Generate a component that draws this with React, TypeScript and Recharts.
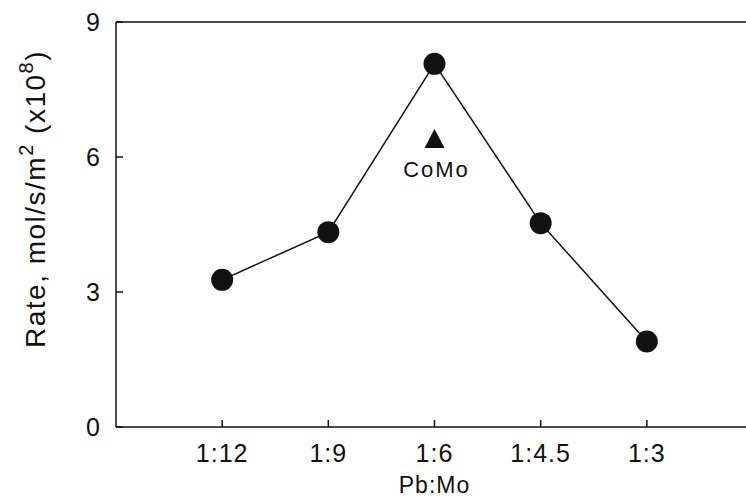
import { ComposedChart, Line, Scatter, XAxis, YAxis, ReferenceLine, Label } from "recharts";

const ratios = ["1:12", "1:9", "1:6", "1:4.5", "1:3"];
const ratioPositions = [1, 2, 3, 4, 5];
const rates = [3.27, 4.33, 8.07, 4.53, 1.9];

const comoNames = ["CoMo"];
const comoPositions = [3];
const comoRates = [6.4];

const yTicks = [0, 3, 6, 9];

const data = ratios.map((r, i) => ({ x: ratioPositions[i], ratio: r, rate: rates[i] }));
const comoData = comoNames.map((name, i) => ({ x: comoPositions[i], rate: comoRates[i], name }));

const FONT = "'Liberation Sans', Arial, sans-serif";
const INK = "#111";

function XTick(props: any) {
  const { x, y, payload } = props;
  const idx = ratioPositions.indexOf(payload.value);
  return (
    <g>
      <line x1={x} x2={x} y1={y} y2={y - 7} stroke={INK} strokeWidth={1.5} />
      <text x={x} y={y + 35} textAnchor="middle" fontSize={25} letterSpacing={1} fontFamily={FONT} fill={INK}>
        {idx >= 0 ? ratios[idx] : ""}
      </text>
    </g>
  );
}

function YTick(props: any) {
  const { x, y, payload } = props;
  return (
    <g>
      <line x1={x} x2={x + 7} y1={y} y2={y} stroke={INK} strokeWidth={1.5} />
      <text x={x - 16} y={y} dy="0.36em" textAnchor="end" fontSize={25} fontFamily={FONT} fill={INK}>
        {payload.value}
      </text>
    </g>
  );
}

function Triangle(props: any) {
  const { cx, cy, payload } = props;
  if (cx == null || cy == null) return null;
  return (
    <g>
      <polygon points={`${cx},${cy - 10} ${cx - 10},${cy + 9} ${cx + 10},${cy + 9}`} fill={INK} />
      <text x={cx + 2} y={cy + 38} textAnchor="middle" fontSize={22} letterSpacing={2} fontFamily={FONT} fill={INK}>
        {payload?.name}
      </text>
    </g>
  );
}

function YLabel() {
  return (
    <text
      transform="translate(45,199) rotate(-90)"
      textAnchor="middle"
      fontSize={28}
      letterSpacing={1.5}
      fontFamily={FONT}
      fill={INK}
    >
      Rate, mol/s/m
      <tspan dy={-12} fontSize={20}>2</tspan>
      <tspan dy={12}> (x10</tspan>
      <tspan dy={-12} fontSize={20}>8</tspan>
      <tspan dy={12}>)</tspan>
    </text>
  );
}

export default function App() {
  return (
    <div style={{ position: "absolute", left: 0, top: 0, background: "#fff" }}>
      <ComposedChart
        width={746}
        height={502}
        data={data}
        margin={{ top: 22, right: -7, bottom: 0, left: 0 }}
      >
        <XAxis
          dataKey="x"
          type="number"
          domain={[0, 6]}
          ticks={ratioPositions}
          interval={0}
          allowDataOverflow
          height={75}
          tickSize={0}
          tickMargin={0}
          tickLine={false}
          tick={<XTick />}
          axisLine={{ stroke: INK, strokeWidth: 1.5 }}
        >
          <Label
            content={({ viewBox }: any) => (
              <text
                x={viewBox.x + viewBox.width / 2}
                y={viewBox.y + 66}
                textAnchor="middle"
                fontSize={23}
                letterSpacing={1}
                fontFamily={FONT}
                fill={INK}
              >
                Pb:Mo
              </text>
            )}
          />
        </XAxis>
        <YAxis
          type="number"
          domain={[0, 9]}
          ticks={yTicks}
          interval={0}
          width={116}
          tickSize={0}
          tickMargin={0}
          tickLine={false}
          tick={<YTick />}
          axisLine={{ stroke: INK, strokeWidth: 1.5 }}
        >
          <Label content={() => <YLabel />} />
        </YAxis>
        <ReferenceLine y={9} stroke={INK} strokeWidth={1.5} />
        <Line
          dataKey="rate"
          stroke={INK}
          strokeWidth={1.5}
          dot={{ r: 11, fill: INK, stroke: INK, strokeWidth: 0 }}
          activeDot={false}
          isAnimationActive={false}
        />
        <Scatter
          data={comoData}
          dataKey="rate"
          shape={(p: any) => <Triangle {...p} />}
          isAnimationActive={false}
        />
      </ComposedChart>
    </div>
  );
}
